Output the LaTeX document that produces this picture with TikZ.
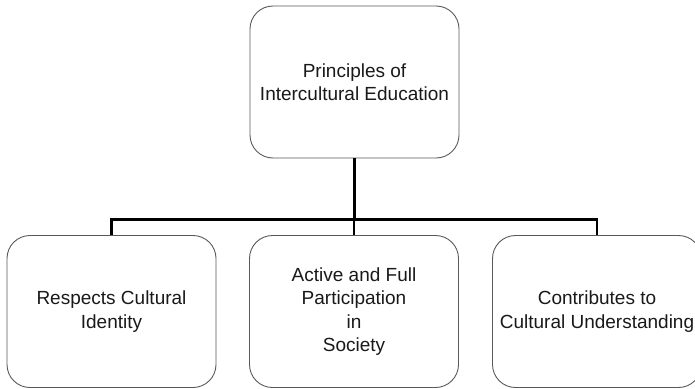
\documentclass[tikz,border=0pt]{standalone}
\usepackage{fontspec}
\setmainfont{Liberation Sans}
\begin{document}
\begin{tikzpicture}[x=1pt,y=-1pt,
  box/.style={draw=black!65, line width=0.9pt, rounded corners=23pt,
    minimum width=209pt, minimum height=152pt, align=center,
    font=\fontsize{19}{23.5}\selectfont, text=black!90, inner sep=0pt},
  conn/.style={draw=black, line width=2.8pt}]
\useasboundingbox (0,0) rectangle (695,388);
\node[box] (top) at (354.5,82) {Principles of\\Intercultural Education};
\node[box] (left) at (111.5,311.5) {Respects Cultural\\Identity};
\node[box] (mid) at (354,311.5) {Active and Full\\Participation\\in\\ Society};
\node[box] (right) at (597,311.5) {Contributes to\\Cultural Understanding};
\coordinate (bus) at (354.5,219.5);
\draw[conn] (top.south) -- (bus);
\draw[conn] (left.north) |- (bus) -| (right.north);
\draw[conn] (mid.north) -- (mid.north |- bus);
\end{tikzpicture}
\end{document}
